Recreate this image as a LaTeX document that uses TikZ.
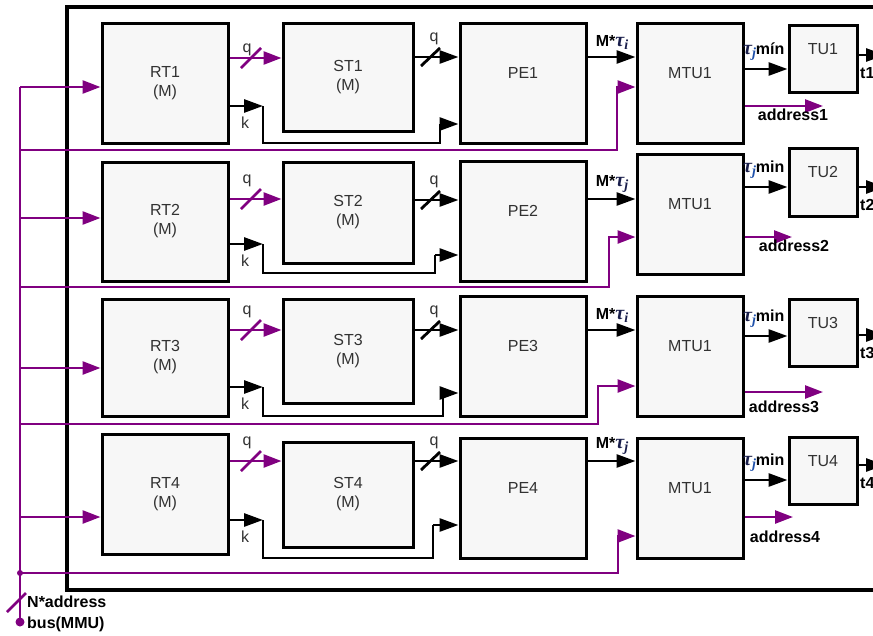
\documentclass[tikz,border=0pt]{standalone}
\usepackage{fontspec}
\setmainfont{Liberation Sans}
\newfontfamily\tauf{Liberation Serif}
\usetikzlibrary{arrows.meta}
\definecolor{pur}{RGB}{128,0,128}
\definecolor{boxfill}{RGB}{247,247,247}
\definecolor{boxtext}{RGB}{50,50,50}
\definecolor{taucol}{RGB}{25,30,75}
\definecolor{jcol}{RGB}{30,80,170}
\newcommand\mytau[2]{{\tauf\bfseries\itshape\fontsize{20}{20}\selectfont\textcolor{taucol}{τ}\raisebox{-3pt}{\fontsize{14}{14}\selectfont\textcolor{#1}{#2}}}}
\begin{document}
\begin{tikzpicture}[x=1pt,y=-1pt,
  font=\fontsize{16}{19}\selectfont,
  blk/.style={draw=black, line width=3pt, fill=boxfill, text=boxtext, inner sep=0pt},
  two/.style={align=center},
  one/.style={text height=11pt, text depth=20pt},
  barrow/.style={draw=black, line width=2.8pt, -{Triangle[length=19pt,width=13pt]}},
  parrow/.style={draw=pur, line width=2.6pt, -{Triangle[length=18pt,width=13pt]}},
  bline/.style={draw=black, line width=2.8pt},
  pline/.style={draw=pur, line width=2.6pt},
  lbl/.style={text=boxtext, inner sep=0pt},
  blbl/.style={font=\fontsize{16}{21}\selectfont\bfseries, text=black, inner sep=0pt}]
\useasboundingbox (0,0) rectangle (873,635);
\clip (0,0) rectangle (873,635);
% outer frame
\draw[line width=4pt] (885,7) -- (67,7) -- (67,590) -- (885,590);
% bus
\coordinate (btop) at (20,87);
\coordinate (bbot) at (20,622);
\draw[pline] (btop) -- (bbot);
\fill[pur] (bbot) circle (4.5);
\draw[pline] (7,612) -- (26,593);
\node[blbl, align=left, anchor=west] (buslbl) at (27,614) {N*address\\bus(MMU)};
\foreach \r/\zRT/\zRB/\zST/\zSB/\zPT/\zPB/\zMT/\zMB/\zUT/\zUB/\zQY/\zQL/\zSQ/\zPQ/\zBY/\zKY/\zKD/\zKX/\zKU/\zRY/\zRX/\zRU/\zMY/\zAY/\zAE/\zOY/\zAX/\zAL/\zSUB/\zMN in {
1/23/143/23/131/23/143/23/143/25/92/58/50/57/57/87/106/143/440/124/150/617/87/69/106/823/55/793/115/i/mín,
2/162/281/162/263/161/281/154/274/148/216/199/181/200/199/218/244/273/435/255/287/609/237/187/237/792/187/794/246/j/min,
3/299/416/299/403/296/416/296/416/299/366/330/312/330/330/368/387/416/443/393/424/598/386/336/392/823/335/784/407/i/min,
4/434/554/442/547/438/558/438/558/437/504/461/443/461/461/517/520/558/433/525/573/618/536/480/517/793/465/785/537/j/min}{
  % blocks
  \node[blk, two, minimum width=126, minimum height={\zRB-\zRT}] (RT\r) at (165,{(\zRT+\zRB)/2}) {RT\r\\(M)};
  \node[blk, two, minimum width=130, minimum height={\zSB-\zST}] (ST\r) at (348,{(\zST+\zSB)/2}) {ST\r\\(M)};
  \node[blk, one, minimum width=126, minimum height={\zPB-\zPT}] (PE\r) at (523,{(\zPT+\zPB)/2}) {PE\r};
  \node[blk, one, minimum width=106, minimum height={\zMB-\zMT}] (MTU\r) at (690,{(\zMT+\zMB)/2}) {MTU1};
  \node[blk, one, minimum width=68, minimum height={\zUB-\zUT}] (TU\r) at (823,{(\zUT+\zUB)/2}) {TU\r};
  % coordinates
  \coordinate (bi\r) at (btop |- 0,\zBY);
  \coordinate (br\r) at (btop |- 0,\zRY);
  \coordinate (rc\r) at (\zRX,\zRU);
  \coordinate (ka\r) at (263,\zKY);
  \coordinate (kb\r) at (\zKX,\zKU);
  \coordinate (ae\r) at (\zAE,\zAY);
  \coordinate (to\r) at (885,\zOY);
  % q : RT -> ST
  \draw[parrow] (RT\r.east |- 0,\zQY) -- (ST\r.west |- 0,\zQY);
  \draw[pline] (241,\zQY+10) -- (261,\zQY-10);
  \node[lbl] (qa\r) at (247,\zQL) {q};
  % k : RT -> PE
  \draw[barrow] (RT\r.east |- ka\r) -- (ka\r);
  \draw[bline] (ka\r) |- (kb\r |- 0,\zKD) -- (kb\r);
  \draw[barrow] (kb\r) -- (PE\r.west |- kb\r);
  \node[lbl] (k\r) at (245,\zKY+17) {k};
  % q : ST -> PE
  \draw[barrow] (ST\r.east |- 0,\zSQ) -- (PE\r.west |- 0,\zSQ);
  \draw[bline] (421,\zSQ+9) -- (440,\zSQ-9);
  \node[lbl] (qb\r) at (434,\zSQ-18) {q};
  % PE -> MTU
  \draw[barrow] (PE\r.east |- 0,\zPQ) -- (MTU\r.west |- 0,\zPQ);
  \node[inner sep=0pt] (mt\r) at (612,\zPQ-15) {\bfseries M*\mytau{taucol}{\zSUB}};
  % bus -> RT
  \draw[parrow] (bi\r) -- (RT\r.west |- bi\r);
  % bus -> MTU
  \draw[parrow] (br\r) -| (rc\r) -- (MTU\r.west |- rc\r);
  % MTU -> TU
  \draw[barrow] (MTU\r.east |- 0,\zMY) -- (TU\r.west |- 0,\zMY);
  \node[inner sep=0pt, anchor=west] (tj\r) at (743,\zMY-17) {\mytau{jcol}{j}{\bfseries\zMN}};
  % address
  \draw[parrow] (MTU\r.east |- ae\r) -- (ae\r);
  \node[blbl] (ad\r) at (\zAX,\zAL) {address\r};
  % TU out
  \draw[barrow] (TU\r.east |- to\r) -- (to\r);
  \node[blbl, anchor=west] (t\r) at (860,\zOY+18) {t\r};
}
\fill[pur] (br4) circle (3);
\end{tikzpicture}
\end{document}
